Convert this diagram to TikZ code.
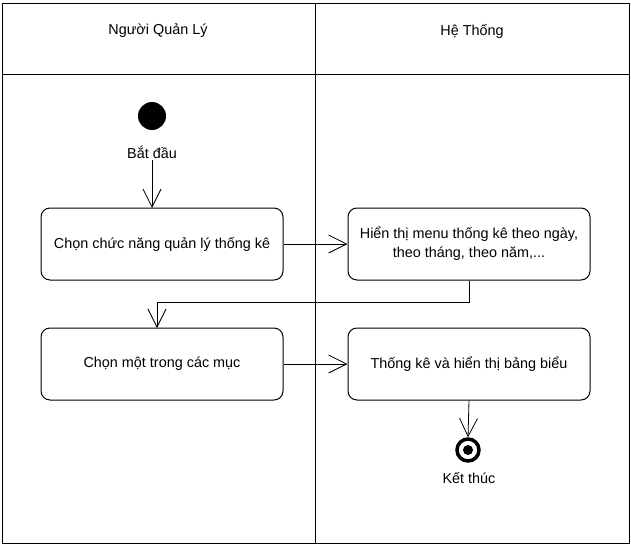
\documentclass[tikz,border=0pt]{standalone}
\usepackage{fontspec}
\setmainfont{Liberation Sans}
\usetikzlibrary{arrows.meta}

\begin{document}
\begin{tikzpicture}[x=1pt,y=-1pt,
        lane/.style={draw,line width=0.9pt},
        action/.style={draw,line width=1pt,rounded corners=9pt,minimum width=242pt,minimum height=72pt,align=center,font=\fontsize{14.4}{19}\selectfont},
        flow/.style={-{Straight Barb[length=18pt,width=18pt]},line width=0.8pt},
        lbl/.style={font=\fontsize{14.4}{17}\selectfont,inner sep=0pt}]
    \useasboundingbox (0,0) rectangle (631,546);
    % lanes
    \draw[lane] (2,3) rectangle (629,543);
    \draw[lane] (2,74) -- (629,74);
    \draw[lane] (315,3) -- (315,543);
    \node[lbl] (qlhead) at (158,31) {Người Quản Lý};
    \node[lbl] (hthead) at (472,31) {Hệ Thống};
    % start / end
    \node[circle,fill=black,minimum size=28pt,inner sep=0pt] (start) at (152,116) {};
    \node[lbl] (startlbl) at (152,152) {Bắt đầu};
    \node[circle,draw,line width=3.5pt,minimum size=22pt,inner sep=0pt] (stop) at (468,450) {};
    \node[circle,fill=black,minimum size=10pt,inner sep=0pt] at (stop) {};
    \node[lbl] (stoplbl) at (469,478) {Kết thúc};
    % actions
    \node[action] (chon) at (162,244) {Chọn chức năng quản lý thống kê};
    \node[action] (menu) at (469,244) {Hiển thị menu thống kê theo ngày,\\ theo tháng, theo năm,...};
    \node[action] (muc) at (162,364) {Chọn một trong các mục};
    \node[action] (bang) at (469,364) {Thống kê và hiển thị bảng biểu};
    % flows
    \draw[flow] (152,160) -- (152,208);
    \draw[flow] (chon) -- (menu);
    \draw[flow] (menu.south) |- (157,302) -- (157,328);
    \draw[flow] (muc) -- (bang);
    \draw[flow] (bang.south) -- (stop.north);
\end{tikzpicture}
\end{document}
